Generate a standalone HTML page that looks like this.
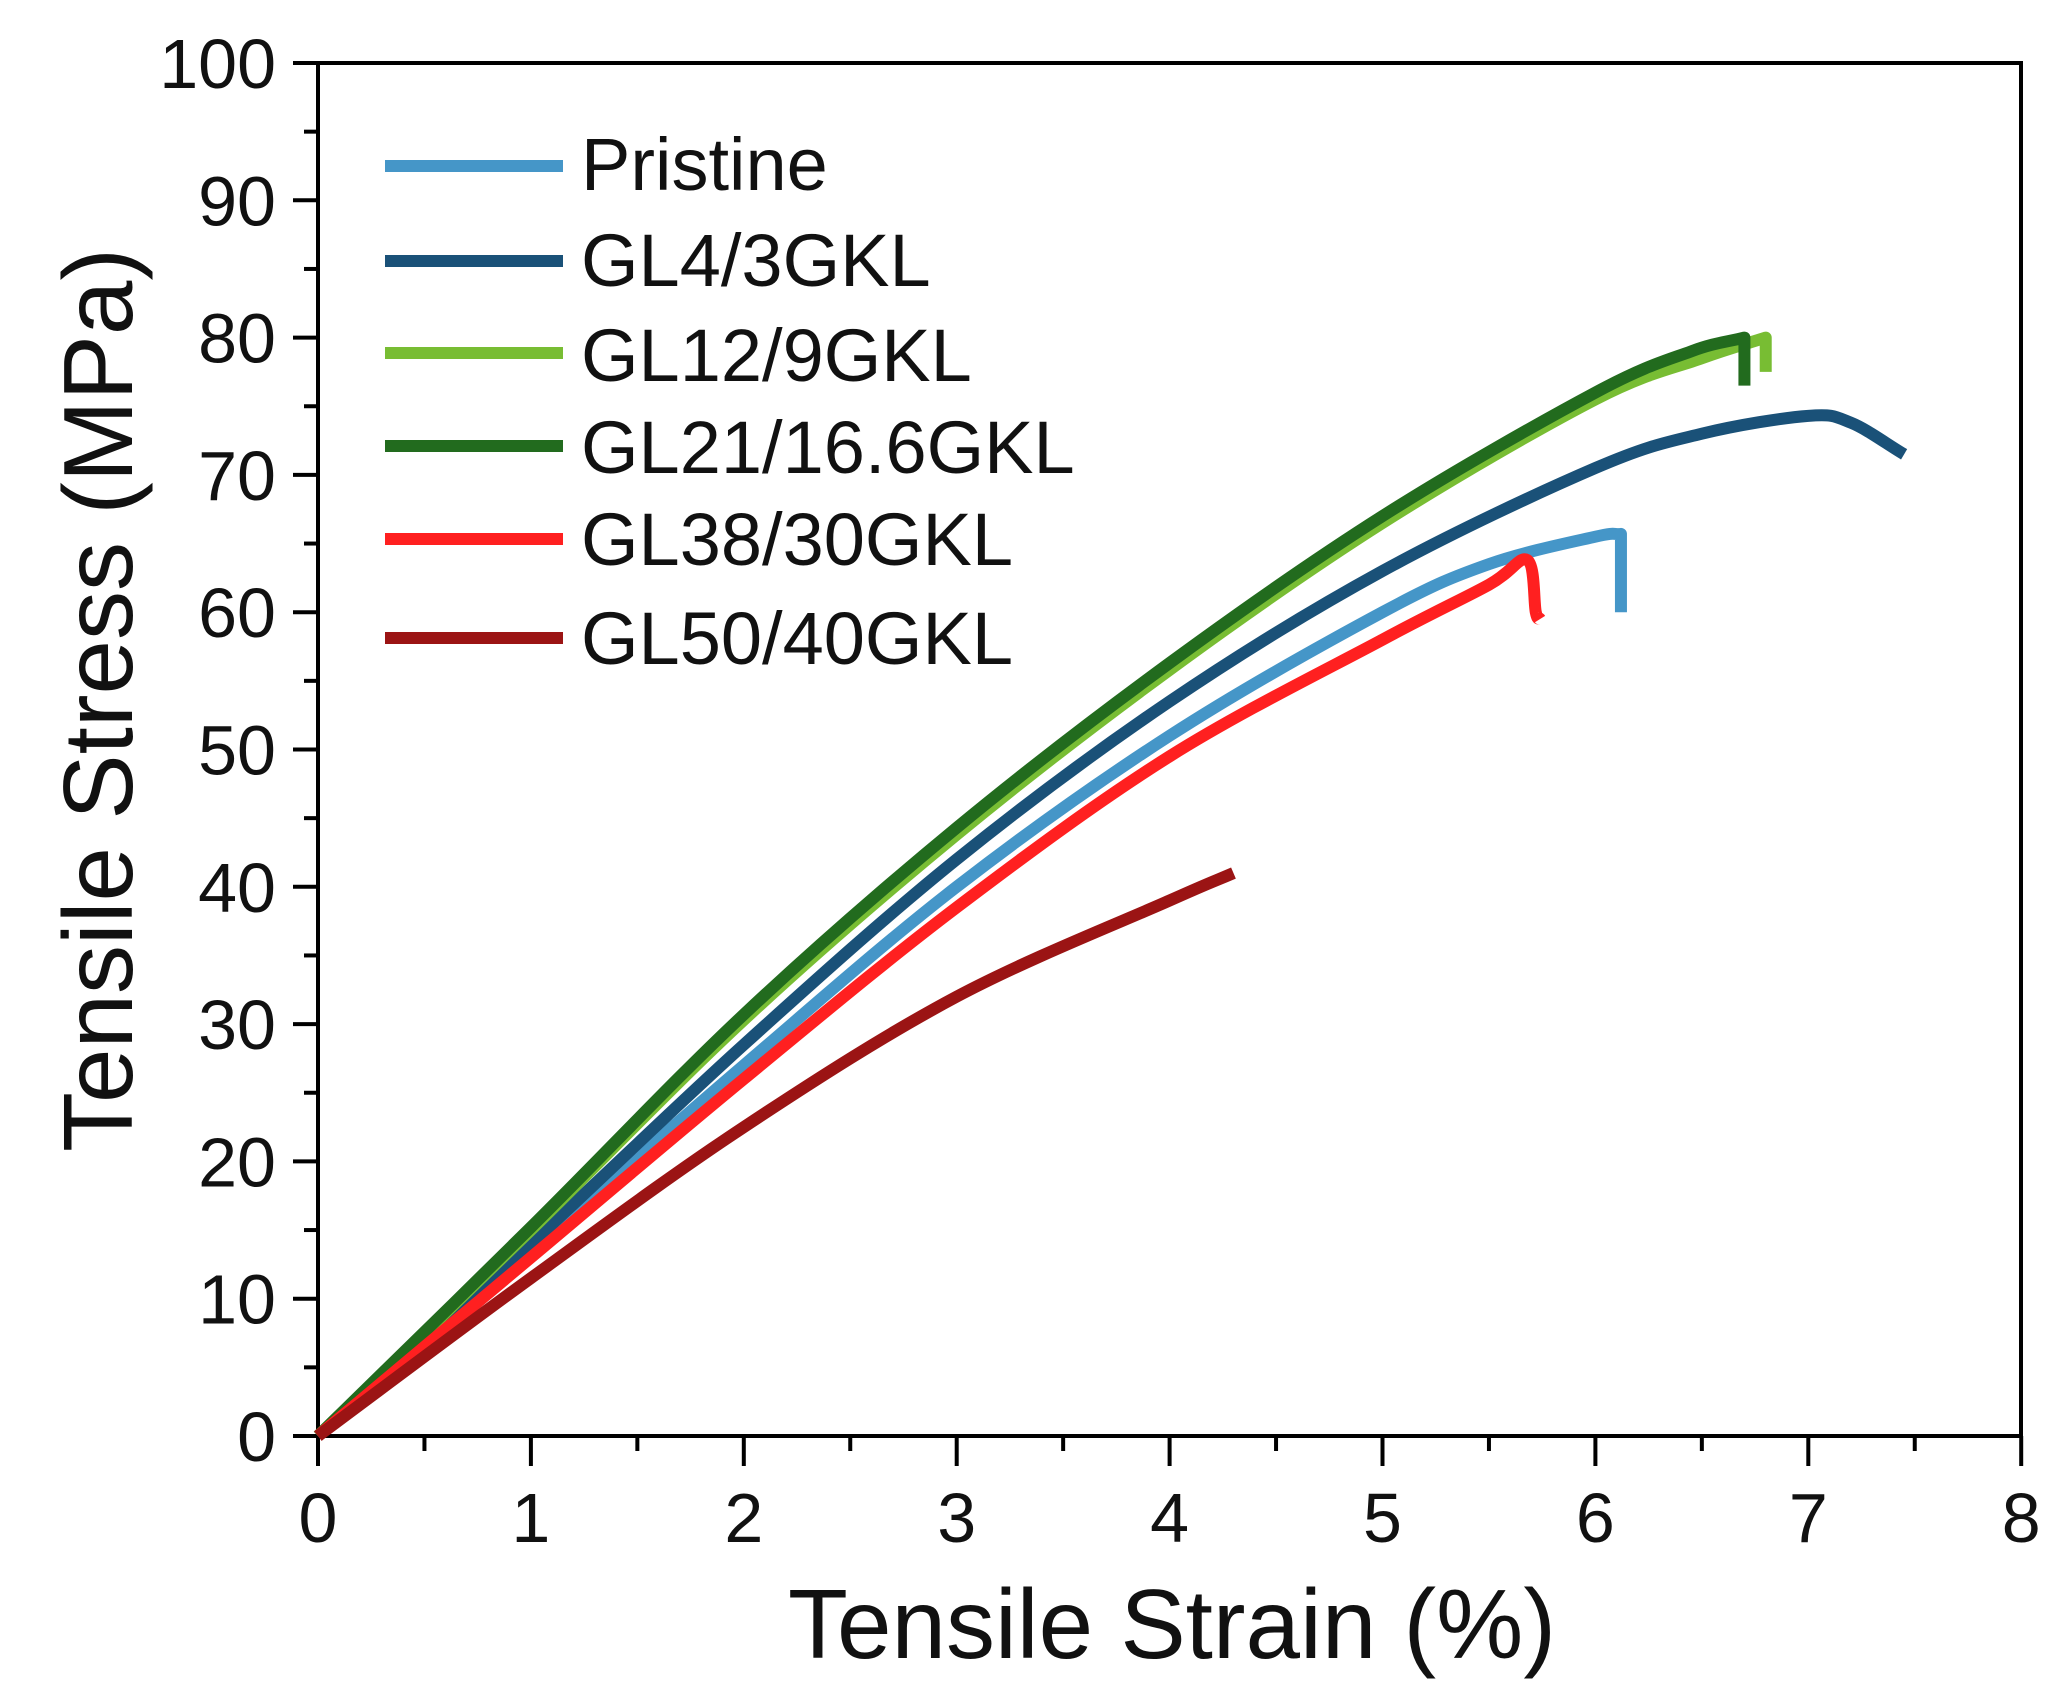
<!DOCTYPE html>
<html><head><meta charset="utf-8"><style>
html,body{margin:0;padding:0;background:#fff}
svg{display:block}
text{font-family:"Liberation Sans",Arial,sans-serif;fill:#111}
</style></head><body>
<svg id="s" width="2055" height="1688" viewBox="0 0 2055 1688" xmlns="http://www.w3.org/2000/svg">
<g id="ax" stroke="#000" stroke-width="4" fill="none"></g>
<g id="curves" fill="none" stroke-width="12" stroke-linejoin="round" stroke-linecap="butt"></g>
<g id="lbl" font-size="70"></g>
<g font-size="74">
<text x="581" y="190">Pristine</text>
<text x="581" y="286">GL4/3GKL</text>
<text x="581" y="381">GL12/9GKL</text>
<text x="581" y="473">GL21/16.6GKL</text>
<text x="581" y="565">GL38/30GKL</text>
<text x="581" y="664">GL50/40GKL</text>
</g>
<g stroke-width="12">
<line x1="385" y1="166" x2="563" y2="166" stroke="#4596c8"/>
<line x1="385" y1="261" x2="563" y2="261" stroke="#1a5178"/>
<line x1="385" y1="353" x2="563" y2="353" stroke="#78bd33"/>
<line x1="385" y1="446" x2="563" y2="446" stroke="#226b1e"/>
<line x1="385" y1="539" x2="563" y2="539" stroke="#ff2020"/>
<line x1="385" y1="638" x2="563" y2="638" stroke="#9b1414"/>
</g>
<text x="1172" y="1658" font-size="98" text-anchor="middle">Tensile Strain (%)</text>
<text transform="translate(132,700) rotate(-90)" font-size="98" text-anchor="middle">Tensile Stress (MPa)</text>
</svg>
<script>
var X=function(s){return 318+212.9*s}, Y=function(v){return 1436-13.73*v};
var NS="http://www.w3.org/2000/svg";
function el(p,t,a){var e=document.createElementNS(NS,t);for(var k in a)e.setAttribute(k,a[k]);p.appendChild(e);return e;}
var ax=document.getElementById('ax'), lb=document.getElementById('lbl');
el(ax,'rect',{x:318,y:63,width:1703,height:1373});
for(var i=0;i<=16;i++){var x=X(i/2);var L=i%2?15:30;el(ax,'line',{x1:x,y1:1436,x2:x,y2:1436+L});
 if(i%2==0){var t=el(lb,'text',{x:x,y:1542,'text-anchor':'middle'});t.textContent=i/2;}}
for(var i=0;i<=20;i++){var y=Y(i*5);var L=i%2?14:25;el(ax,'line',{x1:318,y1:y,x2:318-L,y2:y});
 if(i%2==0){var t=el(lb,'text',{x:276,y:y+25,'text-anchor':'end'});t.textContent=i*5;}}
function path(pts){var d='M'+X(pts[0][0])+' '+Y(pts[0][1]);
 for(var i=0;i<pts.length-1;i++){var p0=pts[Math.max(i-1,0)],p1=pts[i],p2=pts[i+1],p3=pts[Math.min(i+2,pts.length-1)];
  if(p2[0]==p1[0]){d+=' L'+X(p2[0])+' '+Y(p2[1]);continue;}
  var c1=[p1[0]+(p2[0]-p0[0])/6,p1[1]+(p2[1]-p0[1])/6],c2=[p2[0]-(p3[0]-p1[0])/6,p2[1]-(p3[1]-p1[1])/6];
  if(p3[0]==p2[0])c2=[p2[0]-(p2[0]-p1[0])/3,p2[1]-(p2[1]-p1[1])/3];
  d+=' C'+X(c1[0])+' '+Y(c1[1])+' '+X(c2[0])+' '+Y(c2[1])+' '+X(p2[0])+' '+Y(p2[1]);}
 return d;}
var cg=document.getElementById('curves');
var series=[
['#4596c8',[[0,0],[1,13.5],[2,27],[3,40],[4,51],[5,60],[5.5,63.5],[6,65.5],[6.12,65.7],[6.12,60]]],
['#1a5178',[[0,0],[1,14],[2,28.5],[3,42],[4,53.5],[5,63],[6,70.5],[6.5,73],[7,74.3],[7.2,73.8],[7.45,71.5]]],
['#78bd33',[[0,0],[1,15],[2,30.3],[3,43.8],[4,55.8],[5,66.5],[6,75.5],[6.5,78.5],[6.8,80],[6.8,77.5]]],
['#226b1e',[[0,0],[1,15.2],[2,30.7],[3,44.3],[4,56.3],[5,67],[6,76],[6.45,79],[6.7,80],[6.7,76.5]]],
['#ff2020',[[0,0],[1,13],[2,26],[3,38.5],[4,49.5],[5,58],[5.5,62],[5.68,63.8],[5.72,60],[5.74,59.5]]],
['#9b1414',[[0,0],[1,11.5],[2,22.5],[3,32],[4,39],[4.3,41]]]];
series.forEach(function(s){el(cg,'path',{d:path(s[1]),stroke:s[0]});});
</script>
</body></html>
